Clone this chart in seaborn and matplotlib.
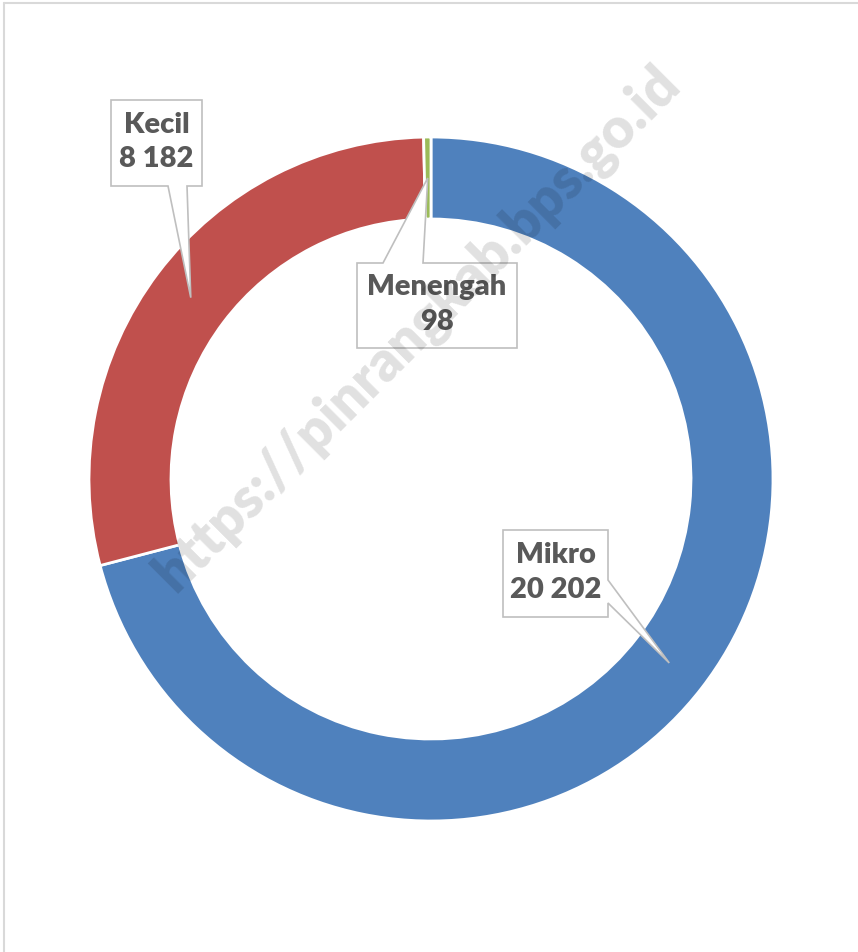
import numpy as np
import matplotlib
matplotlib.use("Agg")
import matplotlib.pyplot as plt
import seaborn as sns
from matplotlib.patches import Polygon

categories = ["Mikro", "Kecil", "Menengah"]
values = [20202, 8182, 98]
colors = ["#4F81BD", "#C0504D", "#9BBB59"]
watermark = "https://pinrangkab.bps.go.id"

W, H = 858, 952
CX, CY = 431, 479          # donut centre, image pixels
R_OUT, RING = 342, 82

# callout boxes: (left, top, right, bottom), side of pointer, pointer base span
boxes = {
    "Kecil": ((111, 100, 202, 186), "bottom", (168, 187)),
    "Menengah": ((357, 263, 517, 348), "top", (383, 423)),
    "Mikro": ((503, 530, 608, 617), "right", (580, 603)),
}

sns.set_theme(style="white")
plt.rcParams["font.family"] = ["Lato", "DejaVu Sans"]


def fy(y):
    return H - y


fig = plt.figure(figsize=(W / 100, H / 100), dpi=100)
ax = fig.add_axes([0, 0, 1, 1])

wedges, _ = ax.pie(values, colors=colors, startangle=90, counterclock=False,
                   center=(CX, fy(CY)), radius=R_OUT, frame=True,
                   wedgeprops=dict(width=RING, edgecolor="white", linewidth=2))
ax.set_xlim(0, W)
ax.set_ylim(0, H)
ax.axis("off")

r_mid = R_OUT - RING / 2
for w, cat, val in zip(wedges, categories, values):
    ang = np.deg2rad((w.theta1 + w.theta2) / 2)
    tip = (CX + r_mid * np.cos(ang), fy(CY) + r_mid * np.sin(ang))
    (l, t, r, b), side, (p0, p1) = boxes[cat]
    if side == "bottom":
        pts = [(l, t), (r, t), (r, b), (p1, b), None, (p0, b), (l, b)]
    elif side == "top":
        pts = [(l, t), (p0, t), None, (p1, t), (r, t), (r, b), (l, b)]
    else:
        pts = [(l, t), (r, t), (r, p0), None, (r, p1), (r, b), (l, b)]
    verts = [tip if p is None else (p[0], fy(p[1])) for p in pts]
    ax.add_patch(Polygon(verts, closed=True, facecolor="white",
                         edgecolor="#bfbfbf", linewidth=1.2, zorder=4))
    ax.text((l + r) / 2, fy((t + b) / 2) + 1, f"{cat}\n{val:,}".replace(",", " "),
            ha="center", va="center", fontsize=21, fontweight="heavy",
            color="#595959", linespacing=1.4, zorder=5)

ax.text(418, fy(329), watermark, rotation=45, ha="center", va="center",
        fontsize=40, fontweight="heavy", color="black", alpha=0.12, zorder=6)

# chart area border (top and left edges visible)
fig.add_artist(plt.Line2D([4 / W, 1], [1 - 3 / H, 1 - 3 / H], color="#d9d9d9", lw=1.5))
fig.add_artist(plt.Line2D([4 / W, 4 / W], [0, 1 - 3 / H], color="#d9d9d9", lw=1.5))

fig.savefig("out.png", dpi=100)
